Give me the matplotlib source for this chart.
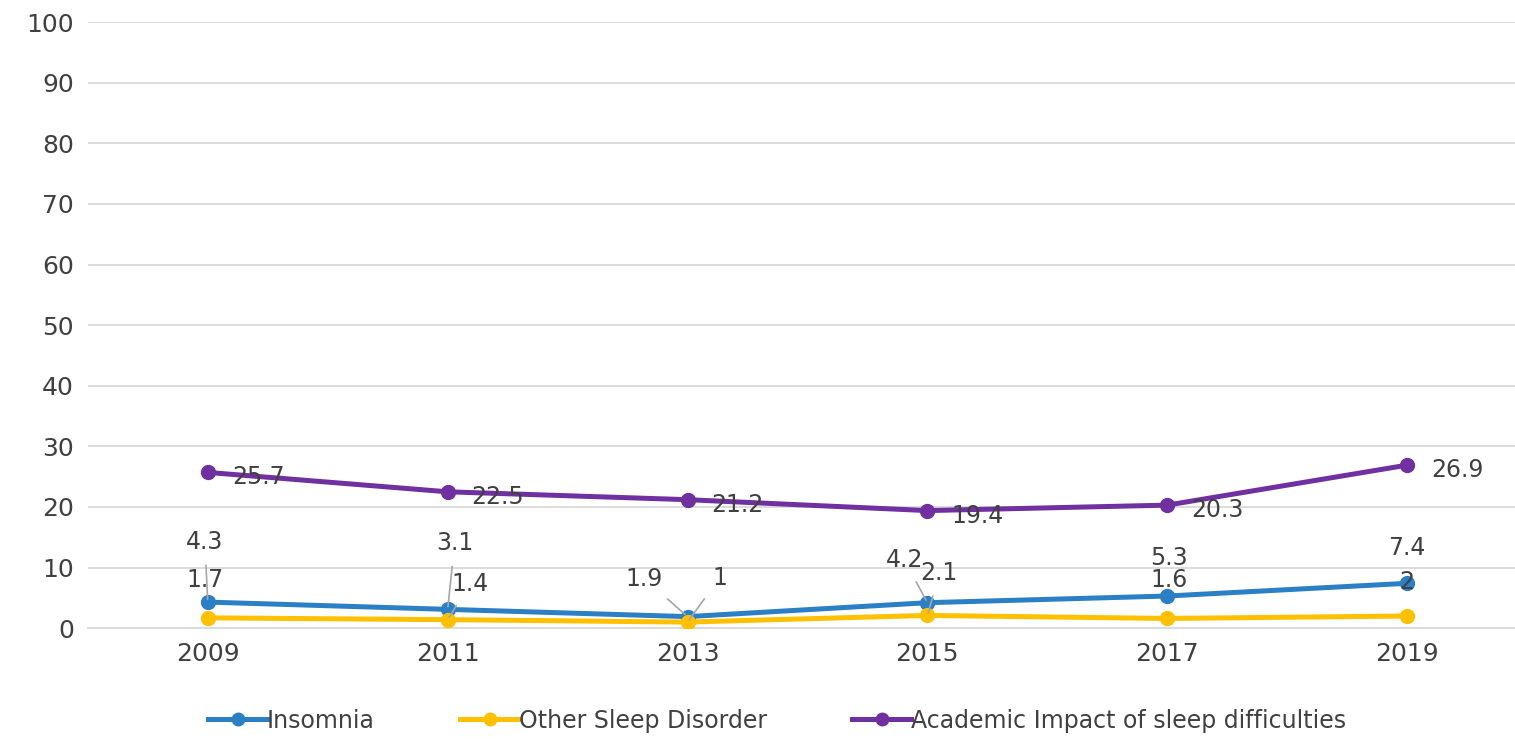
import matplotlib
matplotlib.use('Agg')
import matplotlib.pyplot as plt

years = ['2009', '2011', '2013', '2015', '2017', '2019']
insomnia = [4.3, 3.1, 1.9, 4.2, 5.3, 7.4]
other_sleep = [1.7, 1.4, 1.0, 2.1, 1.6, 2.0]
academic = [25.7, 22.5, 21.2, 19.4, 20.3, 26.9]
yticks = [0, 10, 20, 30, 40, 50, 60, 70, 80, 90, 100]

# label offsets in pixels (dx, dy) and whether a leader line is drawn
ins_off = [(-3, 60, True), (7, 66, True), (-43, 38, True), (-23, 43, True), (2, 38, False), (0, 35, False)]
oth_off = [(-3, 38, False), (22, 36, True), (32, 44, True), (12, 42, True), (2, 38, False), (0, 34, False)]

BLUE, YELLOW, PURPLE = '#2b7fc5', '#ffc000', '#7030a0'
TXT = '#404040'

plt.rcParams['font.family'] = ['DejaVu Sans']

fig = plt.figure(figsize=(15.15, 7.39), dpi=100)
ax = fig.add_axes([0.058, 0.150, 0.942, 0.820])
x = list(range(len(years)))

ax.plot(x, insomnia, color=BLUE, lw=3.6, marker='o', ms=10, label='Insomnia', zorder=3)
ax.plot(x, other_sleep, color=YELLOW, lw=3.6, marker='o', ms=10, label='Other Sleep Disorder', zorder=3)
ax.plot(x, academic, color=PURPLE, lw=3.6, marker='o', ms=10,
        label='Academic Impact of sleep difficulties', zorder=3)

for xi, v in zip(x, academic):
    ax.annotate(f'{v:g}', (xi, v), xytext=(24, -5), textcoords='offset pixels',
                ha='left', va='center', fontsize=17, color=TXT, zorder=4)

for vals, offs in [(insomnia, ins_off), (other_sleep, oth_off)]:
    for xi, v, (dx, dy, lead) in zip(x, vals, offs):
        kw = {}
        if lead:
            kw['arrowprops'] = dict(arrowstyle='-', color='#a6a6a6', lw=1.2,
                                    shrinkA=6, shrinkB=2)
        ax.annotate(f'{v:g}', (xi, v), xytext=(dx, dy), textcoords='offset pixels',
                    ha='center', va='center', fontsize=17, color=TXT, zorder=4, **kw)

ax.set_xlim(-0.5, 5.45)
ax.set_ylim(0, 100)
ax.set_xticks(x)
ax.set_xticklabels(years)
ax.set_yticks(yticks)
ax.tick_params(axis='both', length=0, labelsize=18, labelcolor=TXT, pad=10)
ax.grid(axis='y', color='#d9d9d9', lw=1.3)
ax.set_axisbelow(True)
for s in ['top', 'right', 'left']:
    ax.spines[s].set_visible(False)
ax.spines['bottom'].set_color('#d9d9d9')
ax.spines['bottom'].set_linewidth(1.3)

fig.legend(loc='lower center', bbox_to_anchor=(0.513, -0.02), ncol=3, frameon=False,
           fontsize=17, labelcolor=TXT, handlelength=2.5, handletextpad=0.0,
           columnspacing=3.6, markerscale=0.9)

fig.savefig('out.png', dpi=100)
